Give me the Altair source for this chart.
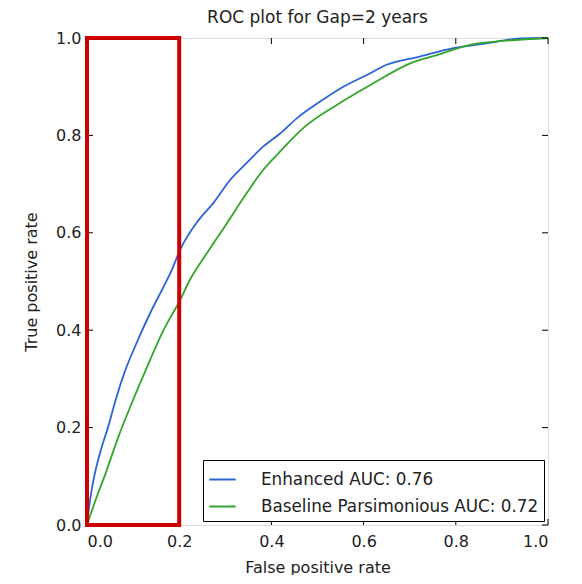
import altair as alt
import pandas as pd

title_text = "ROC plot for Gap=2 years"
series_names = ["Enhanced AUC: 0.76", "Baseline Parsimonious AUC: 0.72"]
series_colors = ["#2c64d8", "#33a52a"]

enh_fpr = [0, 0.005, 0.014, 0.028, 0.046, 0.064, 0.082, 0.104, 0.140, 0.166, 0.184, 0.202,
           0.242, 0.274, 0.310, 0.346, 0.382, 0.419, 0.455, 0.505, 0.556, 0.607, 0.650,
           0.722, 0.795, 0.867, 0.939, 1.0]
enh_tpr = [0, 0.040, 0.092, 0.147, 0.202, 0.263, 0.315, 0.366, 0.441, 0.489, 0.524, 0.565,
           0.626, 0.661, 0.708, 0.743, 0.777, 0.804, 0.835, 0.869, 0.900, 0.924, 0.945,
           0.962, 0.979, 0.989, 0.999, 1.0]

base_fpr = [0, 0.020, 0.040, 0.068, 0.097, 0.126, 0.166, 0.202, 0.223, 0.260, 0.299, 0.346,
            0.382, 0.419, 0.469, 0.541, 0.614, 0.701, 0.759, 0.831, 0.903, 1.0]
base_tpr = [0, 0.055, 0.105, 0.181, 0.250, 0.315, 0.400, 0.462, 0.503, 0.558, 0.613, 0.681,
            0.729, 0.767, 0.815, 0.862, 0.903, 0.948, 0.965, 0.986, 0.994, 1.0]

tick_values = [0.0, 0.2, 0.4, 0.6, 0.8, 1.0]
highlight_x = [0.0, 0.2]
highlight_y = [0.0, 1.0]

W, H = 461, 487
FONT = "DejaVu Sans"
TXT = "#222222"

rows = []
for i, (f, t) in enumerate(zip(enh_fpr, enh_tpr)):
    rows.append({"series": series_names[0], "fpr": f, "tpr": t, "order": i})
for i, (f, t) in enumerate(zip(base_fpr, base_tpr)):
    rows.append({"series": series_names[1], "fpr": f, "tpr": t, "order": i})
df = pd.DataFrame(rows)

xs = alt.Scale(domain=[0, 1], nice=False)
ys = alt.Scale(domain=[0, 1], nice=False)

lines = alt.Chart(df).mark_line(strokeWidth=1.8, interpolate="monotone").encode(
    x=alt.X("fpr:Q", scale=xs, title="False positive rate",
            axis=alt.Axis(values=tick_values, format=".1f", tickSize=0, domain=False, grid=False,
                          labelPadding=8, titlePadding=10, labelFontSize=16, titleFontSize=16,
                          labelFont=FONT, titleFont=FONT, labelColor=TXT, titleColor=TXT,
                          titleFontWeight="normal")),
    y=alt.Y("tpr:Q", scale=ys, title="True positive rate",
            axis=alt.Axis(values=tick_values, format=".1f", tickSize=0, domain=False, grid=False,
                          labelPadding=6, titlePadding=16, labelFontSize=16, titleFontSize=16,
                          labelFont=FONT, titleFont=FONT, labelColor=TXT, titleColor=TXT,
                          titleFontWeight="normal")),
    color=alt.Color("series:N",
                    scale=alt.Scale(domain=series_names, range=series_colors),
                    legend=alt.Legend(title=None, orient="bottom-right", offset=4,
                                      symbolType="stroke", symbolSize=700, symbolStrokeWidth=2,
                                      labelFontSize=16.8, labelFont=FONT, labelColor=TXT,
                                      strokeColor="black", fillColor="white", padding=5,
                                      cornerRadius=0, rowPadding=3, labelOffset=24,
                                      labelLimit=400)),
    order="order:Q",
)

tick_df = pd.DataFrame({"v": tick_values})
TL = 6
tick_x_bottom = alt.Chart(tick_df).mark_rule(color="black", strokeWidth=1).encode(
    x=alt.X("v:Q", scale=xs), y=alt.value(H), y2=alt.value(H - TL))
tick_x_top = alt.Chart(tick_df).mark_rule(color="black", strokeWidth=1).encode(
    x=alt.X("v:Q", scale=xs), y=alt.value(0), y2=alt.value(TL))
tick_y_left = alt.Chart(tick_df).mark_rule(color="black", strokeWidth=1).encode(
    y=alt.Y("v:Q", scale=ys), x=alt.value(0), x2=alt.value(TL))
tick_y_right = alt.Chart(tick_df).mark_rule(color="black", strokeWidth=1).encode(
    y=alt.Y("v:Q", scale=ys), x=alt.value(W), x2=alt.value(W - TL))

rect_df = pd.DataFrame({"x0": [highlight_x[0]], "x1": [highlight_x[1]],
                        "y0": [highlight_y[0]], "y1": [highlight_y[1]]})
rect = alt.Chart(rect_df).mark_rect(fill=None, fillOpacity=0, stroke="#cc0000", strokeWidth=4).encode(
    x=alt.X("x0:Q", scale=xs), x2="x1:Q", y=alt.Y("y0:Q", scale=ys), y2="y1:Q")

chart = alt.layer(lines, tick_x_bottom, tick_x_top, tick_y_left, tick_y_right, rect).properties(
    width=W, height=H,
    title=alt.TitleParams(title_text, fontSize=17, font=FONT, fontWeight="normal", color=TXT, offset=3),
    autosize=alt.AutoSizeParams(type="none"),
    padding={"left": 79, "top": 30, "right": 20, "bottom": 50},
).configure_view(stroke="black", strokeWidth=1.5).configure(background="white")

chart.save("out.html", embed_options={"renderer": "svg", "actions": False})
